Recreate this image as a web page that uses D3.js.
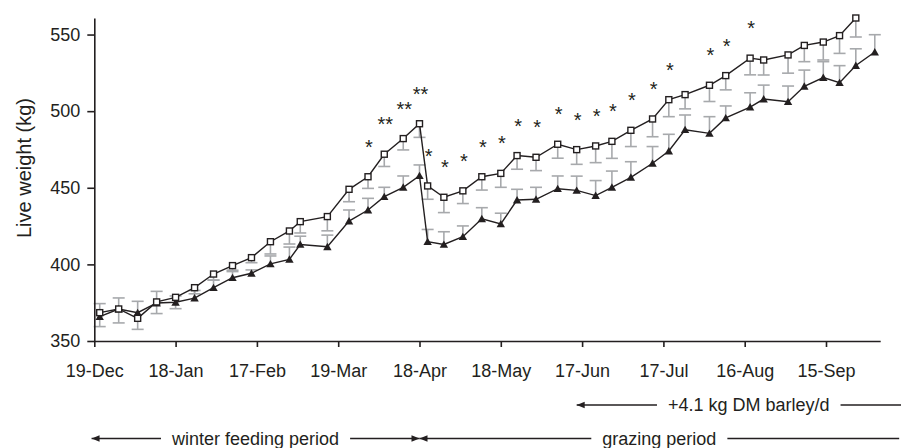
<!DOCTYPE html>
<html>
<head>
<meta charset="utf-8">
<script src="https://cdn.jsdelivr.net/npm/d3@7"></script>
<style>
  body { margin: 0; background: #fff; }
  svg { font-family: "Liberation Sans", Arial, sans-serif; }
  .axis path, .axis line { stroke: #231f20; stroke-width: 1.6; }
  .axis text { fill: #231f20; font-size: 18px; }
</style>
</head>
<body>
<div id="chart"></div>
<script>

// weighing dates (Dec 2006 - Oct 2007)
var weighDates = ["2006-12-21","2006-12-28","2007-01-04","2007-01-11","2007-01-18","2007-01-25",
  "2007-02-01","2007-02-08","2007-02-15","2007-02-22","2007-03-01","2007-03-05","2007-03-15",
  "2007-03-23","2007-03-30","2007-04-05","2007-04-12","2007-04-18","2007-04-21","2007-04-27",
  "2007-05-04","2007-05-11","2007-05-18","2007-05-24","2007-05-31","2007-06-08","2007-06-15",
  "2007-06-22","2007-06-28","2007-07-05","2007-07-13","2007-07-19","2007-07-25","2007-08-03",
  "2007-08-09","2007-08-18","2007-08-23","2007-09-01","2007-09-07","2007-09-14","2007-09-20",
  "2007-09-26","2007-10-03"];

// open squares: live weight (kg) and SE drawn below
var squareWeight = [368.5,370.9,364.8,375.5,378.5,384.8,393.7,399.2,404.4,414.8,
  421.8,427.9,431.2,449,457.2,471.9,482.1,491.8,451.2,443.8,
  448,457.2,459.4,471,469.9,478.4,474.9,477.3,480.3,487.5,
  494.9,507.5,510.8,516.9,523.2,534.6,533.4,536.7,542.9,545.1,
  549.3,560.8,null];
var squareSe = [9.1,9.1,7.2,7.6,7.4,4,4,3,3.3,8,
  8.5,7.4,9.3,8.1,7.6,8,7.4,8.9,8.7,10,
  8.3,8.7,9.1,8.9,8.7,9.1,9.6,10.9,11.1,10.6,
  11.6,11.1,9.3,10.6,9.3,10.9,9.8,11.9,10.6,11.7,
  11.6,12.4,null];

// filled triangles: live weight (kg) and SE drawn above
var triangleWeight = [365.9,370.9,368.5,374.8,375.3,378,384.8,391.3,394.2,400.3,
  403.3,413,411.5,428.3,435.5,444.2,450.3,457.9,414.8,413,
  418.1,429.8,426.4,442,442.5,449.4,448.3,444.9,450.3,456.8,
  466,474,487.9,485.5,495.6,502.7,507.9,506.2,516.2,521.9,
  518.6,529.8,538.6];
var triangleSe = [8.5,7.2,7.4,7.6,4.1,5,5,4,2.2,5.2,
  8,5.4,7.6,7.2,7.6,6.1,7.4,7,8,8.3,
  7,7.2,7,7,7.8,8.3,9.3,9.8,10.6,10.2,
  10.9,10.9,9.6,10.9,7.8,9.3,9.1,10.2,10.6,10.4,
  11.1,10.9,11.3];

// significance marks above the squares
var signif = ["","","","","","","","","","","","","","","*","**","**","**","*","*",
  "*","*","*","*","*","*","*","*","*","*","*","*","","*","*","*","","","","",
  "","",""];

var xTicks = ["2006-12-19","2007-01-18","2007-02-17","2007-03-19","2007-04-18","2007-05-18",
  "2007-06-17","2007-07-17","2007-08-16","2007-09-15"];
var yTicks = [350, 400, 450, 500, 550];

// period annotations below the axis
var periodLabels = ["+4.1 kg DM barley/d", "winter feeding period", "grazing period"];
var periodStart  = ["2007-06-15", "2006-12-18", "2007-04-18"];
var periodEnd    = ["2007-10-20", "2007-04-18", "2007-10-12"];
var periodRow    = [0, 1, 1];
var periodArrows = [[true, false], [true, true], [true, false]];

var parse = d3.utcParse("%Y-%m-%d");

var data = weighDates.map(function (d, i) {
  return { date: parse(d), sq: squareWeight[i], sqSe: squareSe[i],
           tri: triangleWeight[i], triSe: triangleSe[i], star: signif[i] };
});

var width = 901, height = 448;

var svg = d3.select("#chart").append("svg")
  .attr("width", width)
  .attr("height", height);

var x = d3.scaleUtc()
  .domain([parse("2006-12-19"), parse("2007-10-05")])
  .range([94.3, 880.2]);

var y = d3.scaleLinear()
  .domain([350, 560.8])
  .range([341, 18]);

var xAxis = d3.axisBottom(x)
  .tickValues(xTicks.map(parse))
  .tickFormat(d3.utcFormat("%-d-%b"))
  .tickSize(6).tickSizeOuter(0).tickPadding(17);

var yAxis = d3.axisLeft(y)
  .tickValues(yTicks)
  .tickSize(7).tickSizeOuter(0).tickPadding(7);

// error bars (grey, one-sided)
var ink = "#231f20", grey = "#a7a9ac", cap = 6;

var bars = svg.append("g").attr("stroke", grey).attr("stroke-width", 1.6).attr("fill", "none");

data.forEach(function (d) {
  if (d.sq != null) {
    var px = x(d.date), y0 = y(d.sq), y1 = y(d.sq - d.sqSe);
    bars.append("line").attr("x1", px).attr("x2", px).attr("y1", y0).attr("y2", y1);
    bars.append("line").attr("x1", px - cap).attr("x2", px + cap).attr("y1", y1).attr("y2", y1);
  }
  var tx = x(d.date), t0 = y(d.tri), t1 = y(d.tri + d.triSe);
  bars.append("line").attr("x1", tx).attr("x2", tx).attr("y1", t0).attr("y2", t1);
  bars.append("line").attr("x1", tx - cap).attr("x2", tx + cap).attr("y1", t1).attr("y2", t1);
});

svg.append("g").attr("class", "axis")
  .attr("transform", "translate(0," + y(350) + ")")
  .call(xAxis);

svg.append("g").attr("class", "axis")
  .attr("transform", "translate(" + x(parse("2006-12-19")) + ",0)")
  .call(yAxis);

svg.selectAll(".axis .domain").attr("stroke-width", 1.8);

// lines
var sqLine = d3.line()
  .defined(function (d) { return d.sq != null; })
  .x(function (d) { return x(d.date); })
  .y(function (d) { return y(d.sq); });

var triLine = d3.line()
  .x(function (d) { return x(d.date); })
  .y(function (d) { return y(d.tri); });

svg.append("path").datum(data).attr("d", triLine)
  .attr("fill", "none").attr("stroke", ink).attr("stroke-width", 1.4);
svg.append("path").datum(data).attr("d", sqLine)
  .attr("fill", "none").attr("stroke", ink).attr("stroke-width", 1.4);

// markers
svg.selectAll(".tri").data(data).enter()
  .append("path").attr("class", "tri")
  .attr("d", "M0,-4L4.2,3.4L-4.2,3.4Z")
  .attr("fill", ink)
  .attr("transform", function (d) { return "translate(" + x(d.date) + "," + y(d.tri) + ")"; });

svg.selectAll(".sq").data(data.filter(function (d) { return d.sq != null; })).enter()
  .append("rect").attr("class", "sq")
  .attr("x", function (d) { return x(d.date) - 3; })
  .attr("y", function (d) { return y(d.sq) - 3; })
  .attr("width", 6).attr("height", 6)
  .attr("fill", "#fff").attr("stroke", ink).attr("stroke-width", 1.4);

// stars
svg.selectAll(".star").data(data.filter(function (d) { return d.star; })).enter()
  .append("text").attr("class", "star")
  .attr("x", function (d) { return x(d.date) + 1; })
  .attr("y", function (d) { return y(d.sq) - 23; })
  .attr("text-anchor", "middle")
  .attr("font-size", "20px")
  .attr("fill", ink)
  .text(function (d) { return d.star; });

// y label
svg.append("text")
  .attr("transform", "translate(24,168) rotate(-90)")
  .attr("text-anchor", "middle")
  .attr("dy", "0.35em")
  .attr("font-size", "20px")
  .attr("fill", ink)
  .text("Live weight (kg)");

// period annotations
var rowY = [405, 438.5];
periodLabels.forEach(function (label, i) {
  var x0 = x(parse(periodStart[i])), x1 = x(parse(periodEnd[i]));
  var cy = rowY[periodRow[i]], cx = (x0 + x1) / 2;
  var g = svg.append("g");
  var t = g.append("text")
    .attr("x", cx).attr("y", cy).attr("dy", "0.36em")
    .attr("text-anchor", "middle")
    .attr("font-size", "18px")
    .attr("fill", ink)
    .text(label);
  var w = t.node().getComputedTextLength();
  var gap = 11;
  g.append("line").attr("x1", x0).attr("x2", cx - w / 2 - gap)
    .attr("y1", cy).attr("y2", cy).attr("stroke", ink).attr("stroke-width", 1.4);
  g.append("line").attr("x1", cx + w / 2 + gap).attr("x2", x1)
    .attr("y1", cy).attr("y2", cy).attr("stroke", ink).attr("stroke-width", 1.4);
  if (periodArrows[i][0]) {
    g.append("path").attr("fill", ink)
      .attr("d", "M" + x0 + "," + cy + "l8,-3.2v6.4z");
  }
  if (periodArrows[i][1]) {
    g.append("path").attr("fill", ink)
      .attr("d", "M" + x1 + "," + cy + "l-8,-3.2v6.4z");
  }
});

</script>
</body>
</html>
